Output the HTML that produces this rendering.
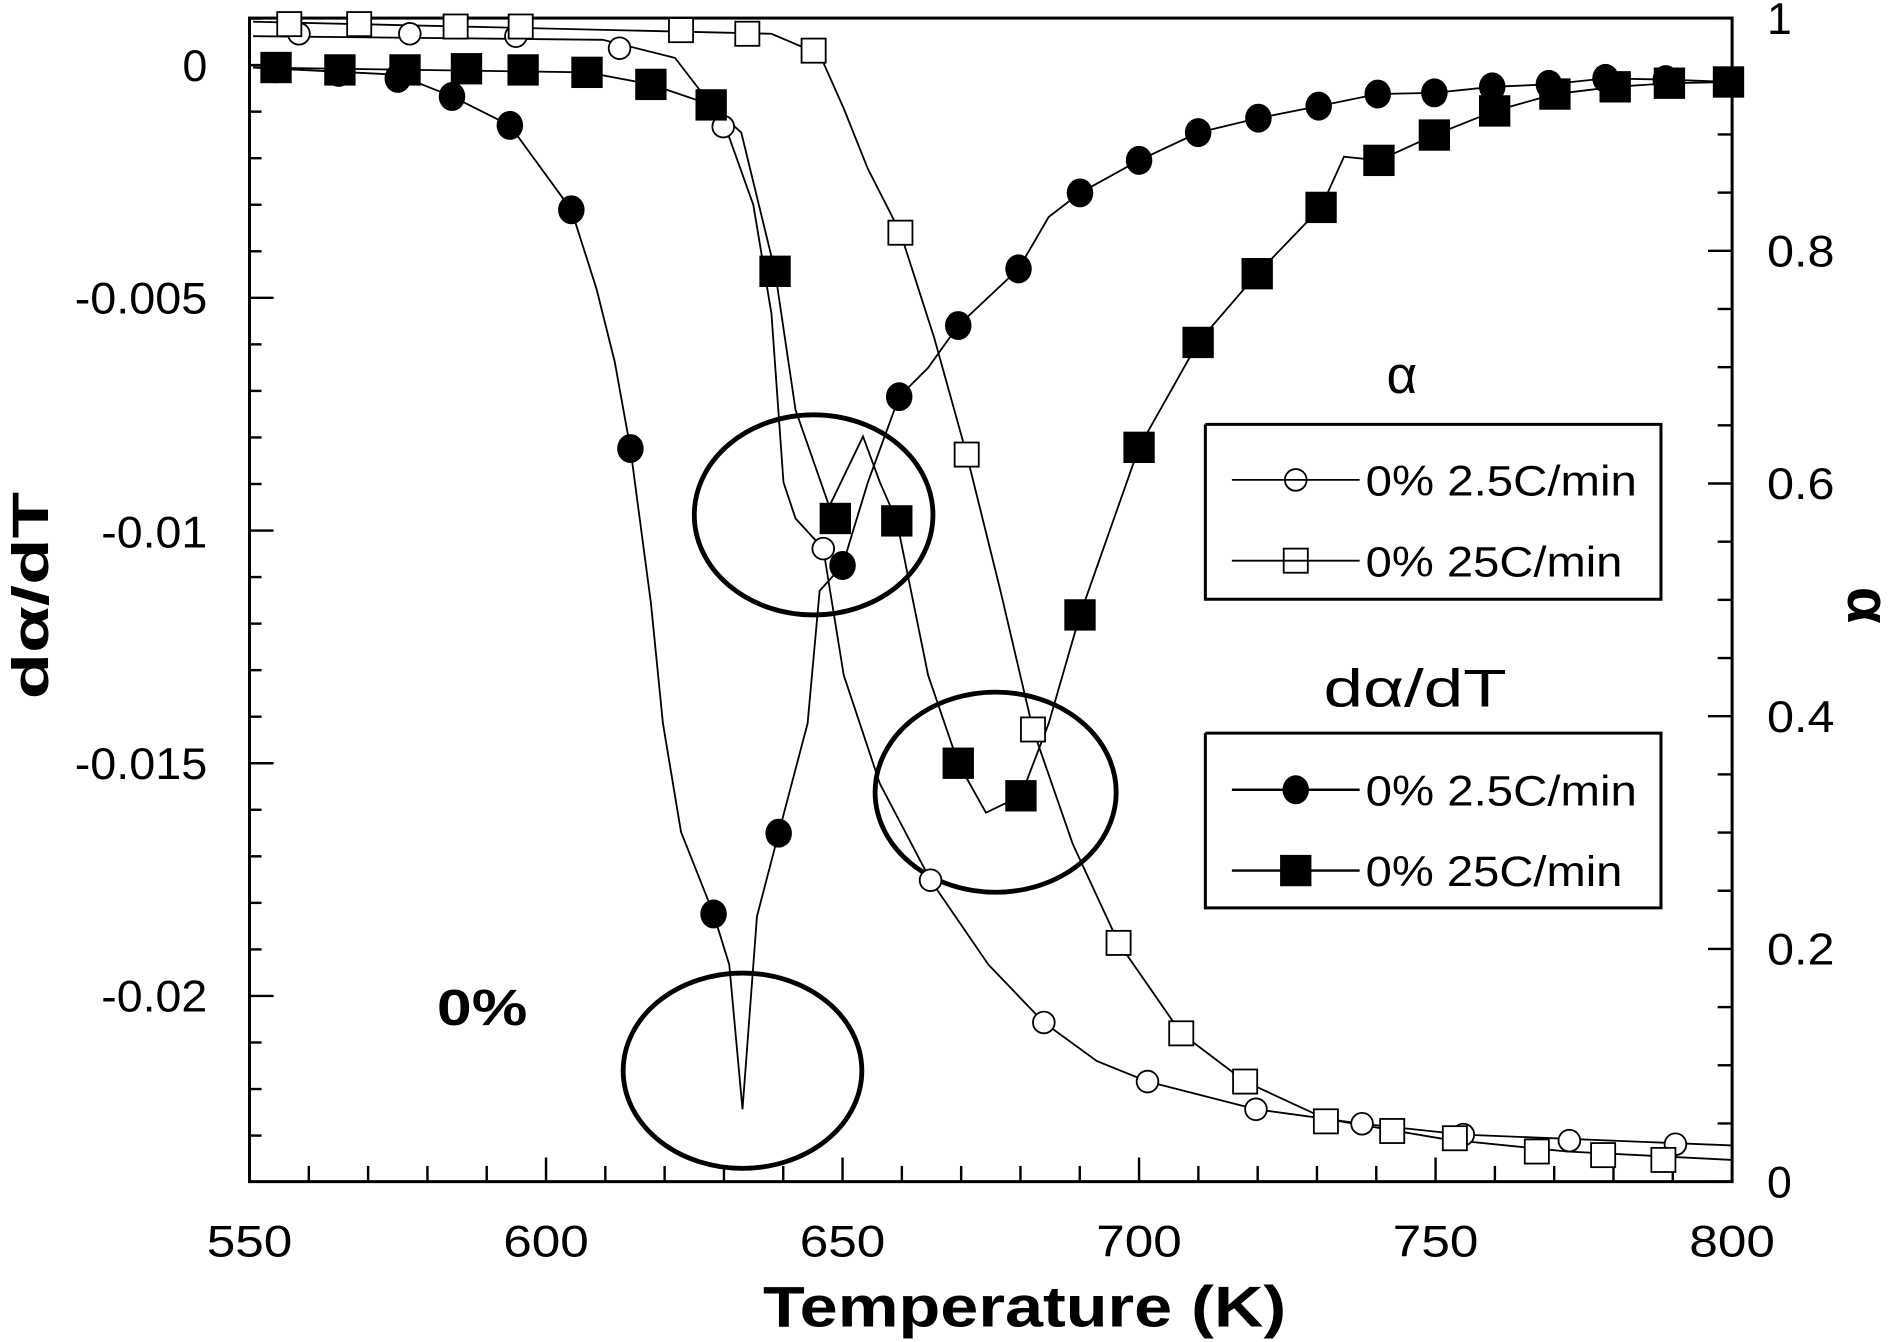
<!DOCTYPE html>
<html><head><meta charset="utf-8"><style>
html,body{margin:0;padding:0;background:#fff;width:1890px;height:1342px;overflow:hidden}
svg{display:block}
text{font-family:"Liberation Sans",sans-serif;fill:#000}
</style></head><body>
<svg id="s" width="1890" height="1342" viewBox="0 0 1568 1113" preserveAspectRatio="none" xmlns="http://www.w3.org/2000/svg">
<rect x="207" y="15" width="1230" height="965" fill="none" stroke="#000" stroke-width="2.5"/>
<g id="ticks" stroke="#000" stroke-width="2"></g>
<g font-size="37" lengthAdjust="spacingAndGlyphs">
<text x="207" y="1042" text-anchor="middle" textLength="71" lengthAdjust="spacingAndGlyphs">550</text>
<text x="453" y="1042" text-anchor="middle" textLength="71" lengthAdjust="spacingAndGlyphs">600</text>
<text x="699" y="1042" text-anchor="middle" textLength="71" lengthAdjust="spacingAndGlyphs">650</text>
<text x="945" y="1042" text-anchor="middle" textLength="71" lengthAdjust="spacingAndGlyphs">700</text>
<text x="1191" y="1042" text-anchor="middle" textLength="71" lengthAdjust="spacingAndGlyphs">750</text>
<text x="1437" y="1042" text-anchor="middle" textLength="71" lengthAdjust="spacingAndGlyphs">800</text>
<text x="172" y="67" text-anchor="end">0</text>
<text x="172" y="260" text-anchor="end" textLength="110" lengthAdjust="spacingAndGlyphs">-0.005</text>
<text x="172" y="454" text-anchor="end" textLength="88" lengthAdjust="spacingAndGlyphs">-0.01</text>
<text x="172" y="646" text-anchor="end" textLength="110" lengthAdjust="spacingAndGlyphs">-0.015</text>
<text x="172" y="839" text-anchor="end" textLength="88" lengthAdjust="spacingAndGlyphs">-0.02</text>
<text x="1466" y="28">1</text>
<text x="1466" y="221" textLength="56" lengthAdjust="spacingAndGlyphs">0.8</text>
<text x="1466" y="414" textLength="56" lengthAdjust="spacingAndGlyphs">0.6</text>
<text x="1466" y="607" textLength="56" lengthAdjust="spacingAndGlyphs">0.4</text>
<text x="1466" y="800" textLength="56" lengthAdjust="spacingAndGlyphs">0.2</text>
<text x="1466" y="993">0</text>
</g>
<text x="850" y="1100" text-anchor="middle" font-size="48" font-weight="bold" textLength="434" lengthAdjust="spacingAndGlyphs">Temperature (K)</text>
<text transform="translate(40,494) rotate(-90)" text-anchor="middle" font-size="42" font-weight="bold" textLength="172" lengthAdjust="spacingAndGlyphs">dα/dT</text>
<text transform="translate(1533,502) rotate(90)" text-anchor="middle" font-size="50" font-weight="bold">α</text>
<text x="400" y="850" text-anchor="middle" font-size="42" font-weight="bold" textLength="75" lengthAdjust="spacingAndGlyphs">0%</text>
<g fill="none" stroke="#000" stroke-width="1.5">
<polyline points="210,30 500,33 560,48 600,100 625,170 640,260 650,400 660,430 683,455 700,560 730,650 772,730 820,800 866,848 910,880 952,897 1042,920 1130,932 1214,941 1437,950"/>
<polyline points="210,18 640,28 680,45 700,90 720,140 747,193 775,280 802,377 830,490 857,605 890,700 928,782 980,857 1033,897 1100,928 1200,945 1300,955 1437,962"/>
<polyline points="210,56 330,62 375,80 423,104 474,174 495,240 510,300 523,372 540,500 550,600 565,690 592,758 605,800 616,920 628,760 646,691 670,600 680,490 699,469 720,400 746,329 770,305 795,270 845,223 870,180 896,160 945,133 994,110 1044,98 1094,88 1143,78 1190,77 1238,72 1285,70 1332,65 1382,66 1437,68"/>
<polyline points="210,56 487,60 540,70 590,87 615,110 643,225 660,340 688,420 716,362 730,400 744,432 770,560 795,633 818,674 847,660 870,600 896,510 945,371 994,284 1043,227 1096,172 1115,130 1144,133 1190,112 1240,92 1290,78 1340,72 1385,69 1437,68"/>
</g>
<g fill="none" stroke="#000" stroke-width="4">
<ellipse cx="675" cy="427" rx="99" ry="83"/>
<ellipse cx="826" cy="657" rx="100" ry="83"/>
<ellipse cx="616" cy="888" rx="99" ry="81"/>
</g>
<g id="mk"></g>
<g fill="none" stroke="#000" stroke-width="2.5">
<polyline points="1000,352 1378,352 1378,497 1000,497 1000,352"/>
<polyline points="1000,608 1378,608 1378,753 1000,753 1000,608"/>
<line x1="1022" y1="398" x2="1128" y2="398" stroke-width="1.5"/>
<line x1="1022" y1="465" x2="1128" y2="465" stroke-width="1.5"/>
<line x1="1022" y1="655" x2="1128" y2="655" stroke-width="2"/>
<line x1="1022" y1="722" x2="1128" y2="722" stroke-width="2"/>
</g>
<g font-size="35">
<text x="1133" y="411" textLength="225" lengthAdjust="spacingAndGlyphs">0% 2.5C/min</text>
<text x="1133" y="478" textLength="213" lengthAdjust="spacingAndGlyphs">0% 25C/min</text>
<text x="1133" y="668" textLength="225" lengthAdjust="spacingAndGlyphs">0% 2.5C/min</text>
<text x="1133" y="735" textLength="213" lengthAdjust="spacingAndGlyphs">0% 25C/min</text>
<text x="1163" y="326" text-anchor="middle" font-size="44">α</text>
<text x="1174" y="586" text-anchor="middle" font-size="44" textLength="152" lengthAdjust="spacingAndGlyphs">dα/dT</text>
</g>
</svg>
<script>
var NS="http://www.w3.org/2000/svg";
function el(p,t,a){var e=document.createElementNS(NS,t);for(var k in a)e.setAttribute(k,a[k]);p.appendChild(e);return e;}
var tk=document.getElementById('ticks');
for(var v=550;v<=800;v+=10){var x=207+(v-550)*4.92;var L=(v%50==0)?20:13;el(tk,'line',{x1:x,y1:980,x2:x,y2:980-L});}
for(var i=-24;i<=1;i++){var y=54-i*38.6;if(y<15||y>980)continue;var L=(i%5==0)?20:10;el(tk,'line',{x1:207,y1:y,x2:207+L,y2:y});}
for(var i=0;i<=20;i++){var y=980-i*48.25;var L=(i%4==0)?20:12;el(tk,'line',{x1:1437,y1:y,x2:1437-L,y2:y});}
var mk=document.getElementById('mk');
var oc=[[248,28],[340,28],[428,30],[514,40],[600,105],[683,455],[772,730],[866,848],[952,897],[1042,920],[1130,932],[1214,941],[1302,946],[1390,949],[1075,398]];
oc.forEach(function(p){el(mk,'circle',{cx:p[0],cy:p[1],r:9,fill:'#fff',stroke:'#000','stroke-width':1.5});});
var os=[[240,20],[298,20],[378,22],[432,22],[565,25],[620,28],[675,42],[747,193],[802,377],[857,605],[928,782],[980,857],[1033,897],[1100,930],[1155,938],[1207,944],[1275,955],[1330,958],[1380,962],[1075,465]];
os.forEach(function(p){el(mk,'rect',{x:p[0]-10,y:p[1]-10,width:20,height:20,fill:'#fff',stroke:'#000','stroke-width':1.5});});
var fc=[[228,57],[281,60],[330,65],[375,80],[423,104],[474,174],[523,372],[592,758],[646,691],[699,469],[746,329],[795,270],[845,223],[896,160],[945,133],[994,110],[1044,98],[1094,88],[1143,78],[1190,77],[1238,72],[1285,70],[1332,65],[1382,66],[1432,68],[1075,655]];
fc.forEach(function(p){el(mk,'ellipse',{cx:p[0],cy:p[1],rx:11,ry:12,fill:'#000'});});
var fs=[[229,56],[282,58],[336,58],[387,57],[434,58],[487,60],[540,70],[590,87],[643,225],[693,430],[744,432],[795,633],[847,660],[896,510],[945,371],[994,284],[1043,227],[1096,172],[1144,133],[1190,112],[1240,92],[1290,78],[1340,72],[1385,69],[1434,68],[1075,722]];
fs.forEach(function(p){el(mk,'rect',{x:p[0]-13,y:p[1]-13,width:26,height:26,fill:'#000'});});
</script>
</body></html>
